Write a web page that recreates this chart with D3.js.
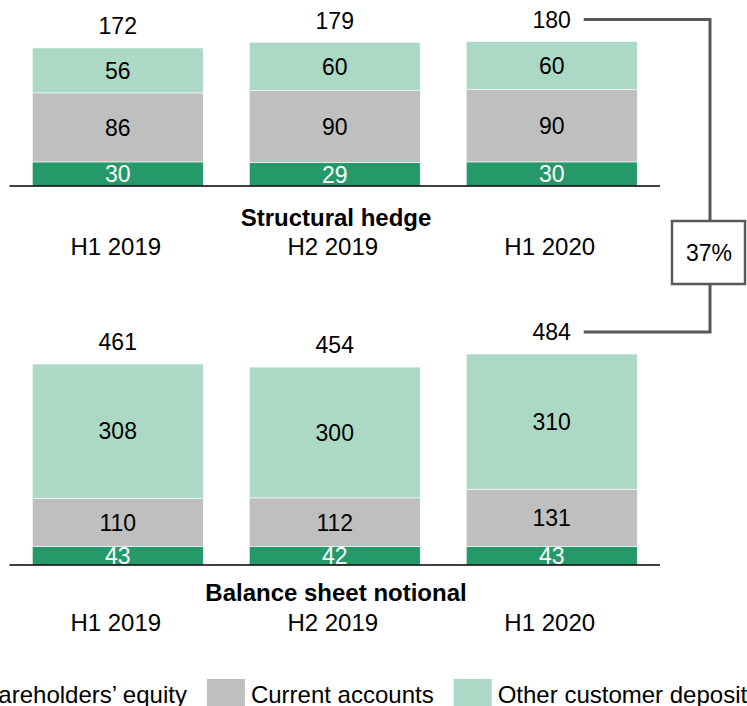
<!DOCTYPE html>
<html>
<head>
<meta charset="utf-8">
<script src="https://cdn.jsdelivr.net/npm/d3@7"></script>
<style>
  html, body { margin: 0; padding: 0; background: #fff; overflow: hidden; }
  svg { display: block; font-family: "Liberation Sans", Arial, sans-serif; }
</style>
</head>
<body>
<div id="chart"></div>
<script>
// categories
var periods = ["H1 2019", "H2 2019", "H1 2020"];
var seriesKeys = ["equity", "current", "other"];
var seriesNames = ["Shareholders\u2019 equity", "Current accounts", "Other customer deposits"];

// structural hedge (top panel)
var hedgeEquity = [30, 29, 30];
var hedgeCurrent = [86, 90, 90];
var hedgeOther = [56, 60, 60];
var hedgeTotal = [172, 179, 180];

// balance sheet notional (bottom panel)
var bsEquity = [43, 42, 43];
var bsCurrent = [110, 112, 131];
var bsOther = [308, 300, 310];
var bsTotal = [461, 454, 484];

var hedgeRatio = "37%";

var colors = { equity: "#25996a", current: "#bfbfbf", other: "#acd9c6" };
var lineGrey = "#595959";

var width = 747, height = 706;

var svg = d3.select("#chart").append("svg")
    .attr("width", width)
    .attr("height", height);

//shared x scale for both panels
var x = d3.scaleBand()
    .domain(periods)
    .range([9.5, 660])
    .paddingInner(0.212)
    .paddingOuter(0.105);

//build rows for d3.stack
function rows(eq, cu, ot){
    return periods.map(function(p, i){
        return { period: p, equity: eq[i], current: cu[i], other: ot[i] };
    });
}

var panels = [
    { title: "Structural hedge", data: rows(hedgeEquity, hedgeCurrent, hedgeOther), totals: hedgeTotal,
      y: d3.scaleLinear().domain([0, 180]).range([186, 41.5]), titleY: 217, catY: 246 },
    { title: "Balance sheet notional", data: rows(bsEquity, bsCurrent, bsOther), totals: bsTotal,
      y: d3.scaleLinear().domain([0, 484]).range([565, 354]), titleY: 592, catY: 622 }
];

var stack = d3.stack().keys(seriesKeys);

panels.forEach(function(panel){
    var y = panel.y;
    var g = svg.append("g");
    var layers = stack(panel.data);

    //stacked bars
    var layer = g.selectAll("g.layer")
        .data(layers)
        .enter().append("g")
            .attr("class", "layer")
            .attr("fill", function(d){ return colors[d.key]; });

    layer.selectAll("rect")
        .data(function(d){ return d; })
        .enter().append("rect")
            .attr("x", function(d){ return x(d.data.period); })
            .attr("y", function(d){ return y(d[1]); })
            .attr("width", x.bandwidth())
            .attr("height", function(d){ return y(d[0]) - y(d[1]); })
            .attr("stroke", "#fff")
            .attr("stroke-width", 0.6);

    //segment labels
    layers.forEach(function(l){
        g.selectAll(null)
            .data(l)
            .enter().append("text")
                .attr("x", function(d){ return x(d.data.period) + x.bandwidth() / 2; })
                .attr("y", function(d){ return (y(d[0]) + y(d[1])) / 2; })
                .attr("dy", "0.36em")
                .attr("text-anchor", "middle")
                .attr("font-size", 23)
                .attr("fill", l.key == "equity" ? "#fff" : "#000")
                .text(function(d){ return d[1] - d[0]; });
    });

    //totals above bars
    g.selectAll("text.total")
        .data(panel.totals)
        .enter().append("text")
            .attr("class", "total")
            .attr("x", function(d, i){ return x(periods[i]) + x.bandwidth() / 2; })
            .attr("y", function(d){ return y(d) - 22; })
            .attr("dy", "0.36em")
            .attr("text-anchor", "middle")
            .attr("font-size", 23)
            .text(function(d){ return d; });

    //baseline
    g.append("line")
        .attr("x1", x.range()[0]).attr("x2", x.range()[1])
        .attr("y1", y(0)).attr("y2", y(0))
        .attr("stroke", "#000")
        .attr("stroke-width", 1.5);

    //panel title
    g.append("text")
        .attr("x", 336)
        .attr("y", panel.titleY)
        .attr("dy", "0.36em")
        .attr("text-anchor", "middle")
        .attr("font-size", 24)
        .attr("font-weight", "bold")
        .text(panel.title);

    //period labels
    g.selectAll("text.cat")
        .data(periods)
        .enter().append("text")
            .attr("class", "cat")
            .attr("x", function(d){ return x(d) + x.bandwidth() / 2 - 2; })
            .attr("y", panel.catY)
            .attr("dy", "0.36em")
            .attr("text-anchor", "middle")
            .attr("font-size", 24)
            .text(function(d){ return d; });
});

//bracket linking last totals
var last = periods[periods.length - 1];
var yA = panels[0].y(hedgeTotal[2]) - 22;
var yB = panels[1].y(bsTotal[2]) - 22;
var bx0 = x(last) + x.bandwidth() / 2 + 32;
var bx1 = 710;
var boxTop = 221, boxBot = 284;

svg.append("path")
    .attr("d", "M" + bx0 + "," + yA + "H" + bx1 + "V" + boxTop)
    .attr("fill", "none").attr("stroke", lineGrey).attr("stroke-width", 3);
svg.append("path")
    .attr("d", "M" + bx0 + "," + yB + "H" + bx1 + "V" + boxBot)
    .attr("fill", "none").attr("stroke", lineGrey).attr("stroke-width", 3);
svg.append("rect")
    .attr("x", 672).attr("y", boxTop)
    .attr("width", 73).attr("height", boxBot - boxTop)
    .attr("fill", "#fff").attr("stroke", lineGrey).attr("stroke-width", 2.5);
svg.append("text")
    .attr("x", 709).attr("y", (boxTop + boxBot) / 2)
    .attr("dy", "0.36em")
    .attr("text-anchor", "middle")
    .attr("font-size", 23)
    .text(hedgeRatio);

//legend (runs off both edges like the original)
var legend = svg.append("g").attr("font-size", 24);
var lx = -75;
seriesKeys.forEach(function(k, i){
    legend.append("rect")
        .attr("x", lx).attr("y", 679)
        .attr("width", 38).attr("height", 38)
        .attr("fill", colors[k]);
    var t = legend.append("text")
        .attr("x", lx + 44).attr("y", 694)
        .attr("dy", "0.36em")
        .text(seriesNames[i]);
    lx = lx + 44 + t.node().getComputedTextLength() + 20;
});
</script>
</body>
</html>
